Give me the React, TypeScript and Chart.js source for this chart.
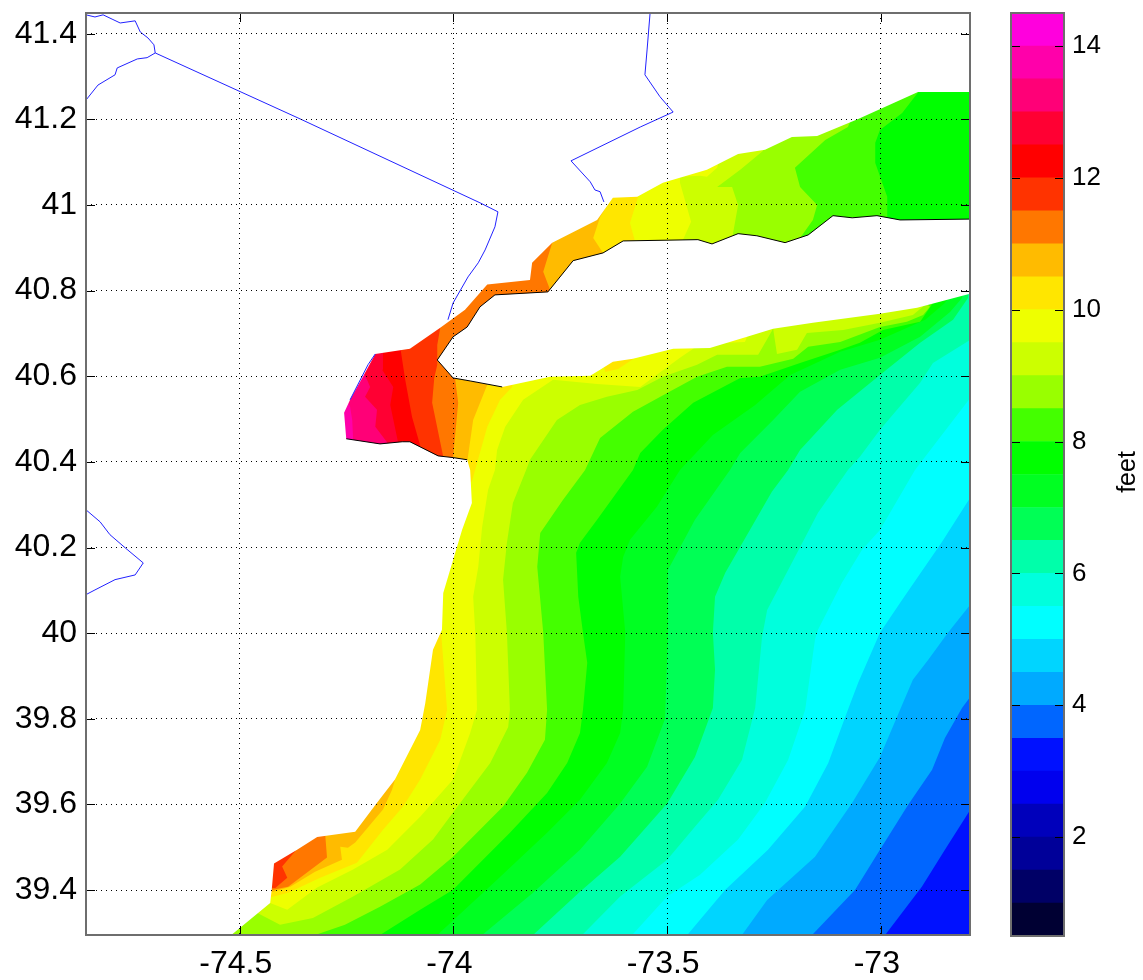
import React, { useEffect, useRef } from "react";
import { Chart, registerables } from "chart.js";

Chart.register(...registerables);

type P = number[];

const lonMin = -74.86, lonMax = -72.7913, latMin = 39.2951, latMax = 41.4483;
const lonTicks = [-74.5, -74, -73.5, -73];
const latTicks = [39.4, 39.6, 39.8, 40, 40.2, 40.4, 40.6, 40.8, 41, 41.2, 41.4];
const barTicks = [2, 4, 6, 8, 10, 12, 14];
const TR: P = [lonMax, latMax], TL: P = [lonMin, latMax], BR: P = [lonMax, latMin], BL: P = [lonMin, latMin];
const W0: P = [-74.57, latMin];

// Height contours (feet), each running from the south-west to the north-east of the map
const c35: P[] = [[-72.99,39.295],[-72.904,39.408],[-72.85,39.494],[-72.791,39.587]];
const c40: P[] = [[-73.161,39.295],[-73.06,39.401],[-73.002,39.494],[-72.936,39.599],[-72.88,39.681],[-72.85,39.755],[-72.81,39.825],[-72.791,39.851]];
const c45: P[] = [[-73.325,39.295],[-73.266,39.377],[-73.154,39.478],[-73.067,39.604],[-73.002,39.711],[-72.95,39.833],[-72.925,39.891],[-72.889,39.938],[-72.843,40.001],[-72.791,40.066]];
const c50: P[] = [[-73.453,39.295],[-73.423,39.331],[-73.364,39.401],[-73.264,39.494],[-73.177,39.595],[-73.123,39.697],[-73.077,39.821],[-73.053,39.884],[-73.002,40.001],[-72.95,40.078],[-72.857,40.213],[-72.791,40.316]];
const c55: P[] = [[-73.582,39.295],[-73.5,39.385],[-73.423,39.436],[-73.334,39.518],[-73.271,39.604],[-73.217,39.704],[-73.177,39.821],[-73.154,39.985],[-73.147,40.008],[-73.091,40.118],[-73.044,40.195],[-73.002,40.241],[-72.92,40.381],[-72.791,40.549]];
const c60: P[] = [[-73.699,39.295],[-73.61,39.385],[-73.5,39.471],[-73.435,39.548],[-73.381,39.611],[-73.325,39.704],[-73.294,39.825],[-73.278,39.991],[-73.266,40.054],[-73.201,40.178],[-73.147,40.281],[-73.077,40.381],[-73.049,40.412],[-73.002,40.475],[-72.908,40.585],[-72.878,40.631],[-72.791,40.685]];
const c65: P[] = [[-73.814,39.295],[-73.704,39.396],[-73.61,39.478],[-73.5,39.602],[-73.435,39.711],[-73.393,39.825],[-73.388,39.915],[-73.393,40.001],[-73.388,40.085],[-73.364,40.141],[-73.329,40.202],[-73.255,40.33],[-73.217,40.381],[-73.189,40.428],[-73.102,40.522],[-73.002,40.603],[-72.908,40.678],[-72.831,40.732],[-72.796,40.783],[-72.791,40.872]];
const c70: P[] = [[-73.933,39.295],[-73.814,39.394],[-73.704,39.494],[-73.61,39.602],[-73.547,39.688],[-73.505,39.8],[-73.498,40.001],[-73.498,40.148],[-73.435,40.265],[-73.353,40.381],[-73.329,40.421],[-73.252,40.498],[-73.189,40.564],[-73.095,40.615],[-73.002,40.643],[-72.908,40.692],[-72.838,40.75],[-72.81,40.783],[-72.791,40.872]];
const c75: P[] = [[-74.038,39.295],[-73.898,39.424],[-73.781,39.534],[-73.704,39.611],[-73.641,39.697],[-73.61,39.767],[-73.603,39.821],[-73.598,40.001],[-73.61,40.132],[-73.603,40.178],[-73.587,40.218],[-73.524,40.295],[-73.47,40.381],[-73.393,40.463],[-73.294,40.533],[-73.212,40.603],[-73.095,40.657],[-73.002,40.685],[-72.896,40.732],[-72.85,40.771],[-72.791,40.872]];
const c80: P[] = [[-74.172,39.295],[-74.078,39.354],[-74.001,39.401],[-73.868,39.534],[-73.781,39.627],[-73.734,39.697],[-73.704,39.767],[-73.697,39.821],[-73.687,39.931],[-73.697,40.001],[-73.708,40.085],[-73.713,40.188],[-73.704,40.211],[-73.664,40.265],[-73.58,40.381],[-73.563,40.421],[-73.51,40.475],[-73.439,40.538],[-73.329,40.596],[-73.283,40.599],[-73.189,40.631],[-73.095,40.662],[-73.049,40.678],[-72.995,40.708],[-72.908,40.727],[-72.878,40.771],[-72.985,40.872],[-72.985,40.968],[-72.985,41.019],[-73.013,41.098],[-73.013,41.145],[-73.002,41.175],[-72.95,41.215],[-72.908,41.269],[-72.896,41.304],[-72.896,latMax],TR];
const c85: P[] = [[-74.324,39.295],[-74.254,39.319],[-74.172,39.361],[-74.078,39.413],[-74.001,39.478],[-73.884,39.595],[-73.828,39.674],[-73.786,39.751],[-73.781,39.821],[-73.79,40.001],[-73.804,40.155],[-73.797,40.234],[-73.744,40.311],[-73.692,40.381],[-73.657,40.456],[-73.58,40.517],[-73.5,40.561],[-73.43,40.599],[-73.36,40.622],[-73.283,40.622],[-73.205,40.641],[-73.17,40.669],[-73.095,40.68],[-73.002,40.715],[-72.939,40.727],[-72.901,40.743],[-72.885,40.762],[-72.955,40.825],[-73.196,40.884],[-73.189,40.923],[-73.159,40.965],[-73.149,41.0],[-73.189,41.042],[-73.201,41.087],[-73.13,41.152],[-73.077,41.182],[-73.065,41.21],[-73.065,latMax],TR];
const c90: P[] = [W0,[-74.499,39.377],[-74.46,39.347],[-74.406,39.319],[-74.329,39.335],[-74.235,39.385],[-74.125,39.448],[-74.048,39.518],[-74.001,39.581],[-73.914,39.697],[-73.872,39.781],[-73.868,39.821],[-73.875,40.001],[-73.884,40.125],[-73.875,40.211],[-73.861,40.304],[-73.83,40.381],[-73.821,40.405],[-73.758,40.498],[-73.704,40.533],[-73.641,40.552],[-73.57,40.568],[-73.51,40.599],[-73.43,40.627],[-73.383,40.65],[-73.287,40.65],[-73.252,40.711],[-73.243,40.652],[-73.196,40.662],[-73.173,40.701],[-73.088,40.708],[-73.002,40.725],[-72.925,40.743],[-72.896,40.767],[-72.955,40.814],[-73.346,40.86],[-73.346,40.933],[-73.334,41.0],[-73.348,41.042],[-73.383,41.042],[-73.329,41.082],[-73.276,41.126],[-73.264,41.152],[-73.264,latMax],TR];
const c95: P[] = [W0,[-74.476,39.401],[-74.429,39.37],[-74.389,39.354],[-74.319,39.406],[-74.235,39.448],[-74.155,39.494],[-74.078,39.571],[-74.001,39.658],[-73.961,39.767],[-73.945,39.821],[-73.949,40.001],[-73.954,40.085],[-73.942,40.155],[-73.933,40.248],[-73.919,40.335],[-73.903,40.381],[-73.898,40.428],[-73.879,40.482],[-73.837,40.545],[-73.767,40.592],[-73.664,40.582],[-73.563,40.575],[-73.47,40.643],[-73.439,40.664],[-73.411,40.697],[-73.36,40.678],[-73.318,40.68],[-73.308,40.704],[-73.376,40.802],[-73.463,40.872],[-73.463,40.919],[-73.444,40.961],[-73.47,41.052],[-73.47,41.066],[-73.423,41.068],[-73.407,41.066],[-73.383,41.087],[-73.372,41.129],[-73.372,latMax],TR];
const c100: P[] = [W0,[-74.453,39.389],[-74.425,39.384],[-74.387,39.394],[-74.312,39.429],[-74.226,39.464],[-74.165,39.541],[-74.118,39.595],[-74.078,39.658],[-74.031,39.751],[-74.015,39.821],[-74.029,40.003],[-74.066,40.171],[-74.02,40.335],[-73.957,40.354],[-73.921,40.482],[-73.891,40.545],[-73.863,40.575],[-73.856,40.615],[-73.657,40.662],[-73.645,40.61],[-73.615,40.617],[-73.575,40.643],[-73.563,40.673],[-73.598,40.849],[-73.575,40.914],[-73.587,40.958],[-73.568,41.019],[-73.563,41.047],[-73.563,latMax],TR];
const c105: P[] = [W0,[-74.476,39.389],[-74.422,39.396],[-74.382,39.408],[-74.324,39.443],[-74.261,39.471],[-74.265,39.501],[-74.247,39.499],[-74.23,39.511],[-74.165,39.588],[-74.144,39.634],[-74.13,39.681],[-74.113,39.844],[-74.031,40.358],[-73.968,40.4],[-73.954,40.498],[-73.921,40.58],[-73.891,40.638],[-73.68,40.778],[-73.641,40.867],[-73.65,40.888],[-73.673,40.923],[-73.657,40.972],[-73.629,41.019],[-73.622,41.047],[-73.622,latMax],TR];
const c110: P[] = [W0,[-74.464,39.406],[-74.422,39.401],[-74.387,39.408],[-74.296,39.476],[-74.3,39.527],[-74.289,39.553],[-74.001,40.381],[-74.001,40.41],[-73.989,40.538],[-73.996,40.592],[-73.914,40.685],[-73.786,40.778],[-73.774,40.802],[-73.79,40.844],[-73.769,40.912],[-73.76,40.947],[-73.76,latMax],TR];
const c115: P[] = [W0,[-74.464,39.406],[-74.417,39.405],[-74.389,39.429],[-74.401,39.455],[-74.371,39.49],[-74.366,39.518],[-74.055,40.381],[-74.024,40.412],[-74.05,40.538],[-74.045,40.596],[-74.038,40.627],[-74.038,40.673],[-74.031,40.713],[-74.036,40.743],[-74.036,latMax],TR];
const c120: P[] = [W0,[-74.476,39.424],[-74.09,40.405],[-74.078,40.438],[-74.097,40.505],[-74.113,40.592],[-74.123,40.657],[-74.123,40.697],[-74.123,latMax],TR];
const c125: P[] = [W0,[-74.476,39.424],[-74.137,40.405],[-74.13,40.447],[-74.148,40.533],[-74.141,40.575],[-74.167,40.615],[-74.165,40.655],[-74.165,40.697],[-74.165,latMax],TR];
const c130: P[] = [W0,[-74.476,39.424],[-74.183,40.405],[-74.155,40.445],[-74.183,40.482],[-74.179,40.522],[-74.207,40.552],[-74.195,40.575],[-74.207,40.603],[-74.23,40.627],[-74.23,latMax],TR];
const c135: P[] = [W0,[-74.476,39.424],[-74.242,40.405],[-74.235,40.456],[-74.237,40.498],[-74.242,40.529],[-74.254,40.557],[-74.265,latMax],TR];

// Shorelines
const westCoast: P[] = [[-74.52,39.295],[-74.429,39.37],[-74.425,39.405],[-74.42,39.462],[-74.366,39.494],[-74.319,39.524],[-74.23,39.536],[-74.179,39.604],[-74.137,39.658],[-74.078,39.774],[-74.066,39.837],[-74.048,39.961],[-74.027,40.008],[-74.024,40.094],[-74.001,40.171],[-73.98,40.241],[-73.957,40.304],[-73.961,40.381]];
const harborShore: P[] = [[-73.968,40.405],[-74.001,40.41],[-74.036,40.414],[-74.102,40.447],[-74.12,40.447],[-74.172,40.442],[-74.251,40.454]];
const northShore: P[] = [[-74.256,40.515],[-74.242,40.545],[-74.212,40.599],[-74.183,40.652],[-74.102,40.664],[-74.031,40.713],[-73.973,40.755],[-73.921,40.814],[-73.821,40.825],[-73.816,40.865],[-73.769,40.912],[-73.664,40.965],[-73.627,41.017],[-73.57,41.019],[-73.51,41.052],[-73.407,41.082],[-73.334,41.119],[-73.271,41.129],[-73.208,41.159],[-73.149,41.161],[-73.053,41.201],[-72.913,41.264],[-72.791,41.264]];
const soundShore: P[] = [[-72.791,40.967],[-72.955,40.965],[-73.009,40.975],[-73.067,40.97],[-73.112,40.975],[-73.17,40.93],[-73.224,40.912],[-73.29,40.928],[-73.334,40.933],[-73.395,40.909],[-73.428,40.919],[-73.603,40.916],[-73.65,40.888],[-73.72,40.87],[-73.779,40.797],[-73.903,40.79],[-73.938,40.762],[-73.968,40.715],[-74.001,40.692],[-74.038,40.638],[-74.001,40.596],[-73.961,40.589],[-73.886,40.575]];
const oceanShore: P[] = [[-73.774,40.599],[-73.68,40.601],[-73.657,40.615],[-73.627,40.634],[-73.58,40.641],[-73.486,40.664],[-73.4,40.666],[-73.313,40.692],[-73.252,40.711],[-73.159,40.725],[-73.002,40.746],[-72.915,40.76],[-72.791,40.793]];

// State lines
const border1: P[] = [[-74.86,41.444],[-74.839,41.439],[-74.82,41.444],[-74.799,41.434],[-74.78,41.425],[-74.745,41.43],[-74.733,41.404],[-74.715,41.39],[-74.701,41.374],[-74.698,41.355]];
const border2: P[] = [[-74.86,41.245],[-74.832,41.28],[-74.792,41.304],[-74.787,41.32],[-74.74,41.341],[-74.717,41.344],[-74.698,41.355]];
const border3: P[] = [[-74.698,41.355],[-74.359,41.201],[-73.938,41.005],[-73.896,40.984],[-73.903,40.949],[-73.926,40.895],[-73.942,40.865],[-73.966,40.832],[-74.001,40.771],[-74.013,40.732]];
const border4: P[] = [[-73.54,41.448],[-73.547,41.362],[-73.552,41.304],[-73.517,41.253],[-73.486,41.217],[-73.563,41.182],[-73.725,41.103],[-73.68,41.054],[-73.669,41.035],[-73.657,41.031],[-73.648,41.007]];
const border5: P[] = [[-74.86,40.288],[-74.827,40.26],[-74.804,40.23],[-74.768,40.199],[-74.726,40.164],[-74.745,40.136],[-74.792,40.125],[-74.839,40.101],[-74.86,40.09]];
const border6: P[] = [[-74.183,40.652],[-74.2,40.627],[-74.242,40.545]];

// Colour bar, low to high
const barLevels = [0.5,1,1.5,2,2.5,3,3.5,4,4.5,5,5.5,6,6.5,7,7.5,8,8.5,9,9.5,10,10.5,11,11.5,12,12.5,13,13.5,14];
const barColors = ["#000033","#000066","#000099","#0000BB","#0000EE","#0011FF","#0066FF","#00AAFF","#00D5FF","#00FFFF","#00FFDD","#00FFAA","#00FF55","#00FF22","#00FF00","#44FF00","#99FF00","#CCFF00","#EEFF00","#FFE600","#FFBB00","#FF7700","#FF3300","#FF0000","#FF0033","#FF0077","#FF00AA","#FF00DD"];
const barStep = 0.5;

const xy = (pts: P[]) => pts.map(([x, y]) => ({ x, y }));
const poly = (pts: P[], color: string) => ({
  data: xy(pts), showLine: true, fill: "shape", backgroundColor: color, borderWidth: 0, pointRadius: 0, tension: 0,
});
const line = (pts: P[], color: string, width: number) => ({
  data: xy(pts), showLine: true, fill: false, borderColor: color, borderWidth: width, pointRadius: 0, tension: 0,
});
const band = (pts: P[], color: string) => poly([...pts, BR], color);

const FONT = "'Liberation Sans', Arial, sans-serif";

const framePlugin = {
  id: "frame",
  afterDraw(chart: any) {
    const { ctx, chartArea: a, scales } = chart;
    ctx.save();
    ctx.strokeStyle = "#000";
    ctx.lineWidth = 1;
    ctx.setLineDash([]);
    const T = 9;
    ctx.beginPath();
    if (scales.x && scales.x.options.display !== false) {
      for (const v of lonTicks) {
        const p = Math.round(scales.x.getPixelForValue(v)) + 0.5;
        ctx.moveTo(p, a.bottom); ctx.lineTo(p, a.bottom - T);
        ctx.moveTo(p, a.top); ctx.lineTo(p, a.top + T);
      }
    }
    for (const v of chart.options.plugins.frame.yTicks) {
      const p = Math.round(scales.y.getPixelForValue(v)) + 0.5;
      ctx.moveTo(a.left, p); ctx.lineTo(a.left + T, p);
      ctx.moveTo(a.right, p); ctx.lineTo(a.right - T, p);
    }
    ctx.stroke();
    ctx.strokeStyle = "#6e6e6e";
    ctx.lineWidth = 2;
    ctx.strokeRect(a.left, a.top, a.right - a.left, a.bottom - a.top);
    const title = chart.options.plugins.frame.title;
    if (title) {
      ctx.fillStyle = "#000";
      ctx.font = `25px ${FONT}`;
      ctx.textAlign = "center";
      ctx.textBaseline = "middle";
      ctx.translate(title.x, title.y);
      ctx.rotate(-Math.PI / 2);
      ctx.fillText(title.text, 0, 0);
    }
    ctx.restore();
  },
};

const noPad = (s: any) => { s.paddingTop = 0; s.paddingBottom = 0; s.paddingLeft = 0; s.paddingRight = 0; };

export default function App() {
  const mapRef = useRef<HTMLCanvasElement>(null);
  const barRef = useRef<HTMLCanvasElement>(null);

  useEffect(() => {
    const layers = [
      poly([BL, BR, TR, TL], "#FF00AA"),
      band(c135, "#FF0077"), band(c130, "#FF0033"), band(c125, "#FF0000"), band(c120, "#FF3300"),
      band(c115, "#FF7700"), band(c110, "#FFBB00"), band(c105, "#FFE600"), band(c100, "#EEFF00"),
      band(c95, "#CCFF00"), band(c90, "#99FF00"), band(c85, "#44FF00"), band(c80, "#00FF00"),
      band(c75, "#00FF22"), band(c70, "#00FF55"), band(c65, "#00FFAA"), band(c60, "#00FFDD"),
      band(c55, "#00FFFF"), band(c50, "#00D5FF"), band(c45, "#00AAFF"), band(c40, "#0066FF"), band(c35, "#0011FF"),
      poly([BL, ...westCoast, ...harborShore, ...northShore, TR, TL], "#FFFFFF"),
      poly([...soundShore, ...oceanShore], "#FFFFFF"),
      line(soundShore, "#000000", 1),
      line(harborShore, "#000000", 1),
      line(border1, "#2222FF", 1), line(border2, "#2222FF", 1), line(border3, "#2222FF", 1),
      line(border4, "#2222FF", 1), line(border5, "#2222FF", 1), line(border6, "#2222FF", 1),
    ].reverse();

    const tickFont = { family: FONT, size: 32 };
    const map = new Chart(mapRef.current!, {
      type: "scatter",
      data: { datasets: layers as any },
      plugins: [framePlugin as any],
      options: {
        animation: false, responsive: false, devicePixelRatio: 1,
        layout: { padding: { top: 13, right: 15, left: 0, bottom: 0 } },
        plugins: { legend: { display: false }, tooltip: { enabled: false }, frame: { yTicks: latTicks } } as any,
        scales: {
          x: {
            type: "linear", min: lonMin, max: lonMax,
            afterBuildTicks: (s: any) => { s.ticks = lonTicks.map((value) => ({ value })); },
            afterFit: (s: any) => { s.height = 45; noPad(s); },
            ticks: { font: tickFont, color: "#000", padding: 10, labelOffset: -4, maxRotation: 0, autoSkip: false, callback: (v: any) => String(v) },
            grid: { z: 1, color: "#000", lineWidth: 1, drawTicks: false },
            border: { display: false, dash: [1, 4] },
          },
          y: {
            type: "linear", min: latMin, max: latMax,
            afterBuildTicks: (s: any) => { s.ticks = latTicks.map((value) => ({ value })); },
            afterFit: (s: any) => { s.width = 86; noPad(s); },
            ticks: { font: tickFont, color: "#000", padding: 9, autoSkip: false, callback: (v: any) => String(v) },
            grid: { z: 1, color: "#000", lineWidth: 1, drawTicks: false },
            border: { display: false, dash: [1, 4] },
          },
        },
      },
    });

    const bar = new Chart(barRef.current!, {
      type: "bar",
      data: {
        labels: ["feet"],
        datasets: barLevels.map((lo, i) => ({
          data: [[lo, lo + barStep]], backgroundColor: barColors[i], borderWidth: 0,
          barPercentage: 1, categoryPercentage: 1, grouped: false,
        })) as any,
      },
      plugins: [framePlugin as any],
      options: {
        animation: false, responsive: false, devicePixelRatio: 1,
        layout: { padding: { top: 13, left: 26, right: 0, bottom: 44 } },
        plugins: {
          legend: { display: false }, tooltip: { enabled: false },
          frame: { yTicks: barTicks, title: { text: "feet", x: 143, y: 472 } },
        } as any,
        scales: {
          x: { display: false },
          y: {
            type: "linear", position: "right", min: 0.5, max: 14.5,
            afterBuildTicks: (s: any) => { s.ticks = barTicks.map((value) => ({ value })); },
            afterFit: (s: any) => { s.width = 79; noPad(s); },
            ticks: { font: { family: FONT, size: 26 }, color: "#000", padding: 8, autoSkip: false },
            grid: { display: false, drawTicks: false },
            border: { display: false },
          },
        },
      },
    });

    return () => { map.destroy(); bar.destroy(); };
  }, []);

  return (
    <div style={{ position: "absolute", left: 0, top: 0, width: 1143, height: 980, background: "#fff", overflow: "hidden" }}>
      <canvas ref={mapRef} width={985} height={980} style={{ position: "absolute", left: 0, top: 0, display: "block" }} />
      <canvas ref={barRef} width={158} height={980} style={{ position: "absolute", left: 985, top: 0, display: "block" }} />
    </div>
  );
}
